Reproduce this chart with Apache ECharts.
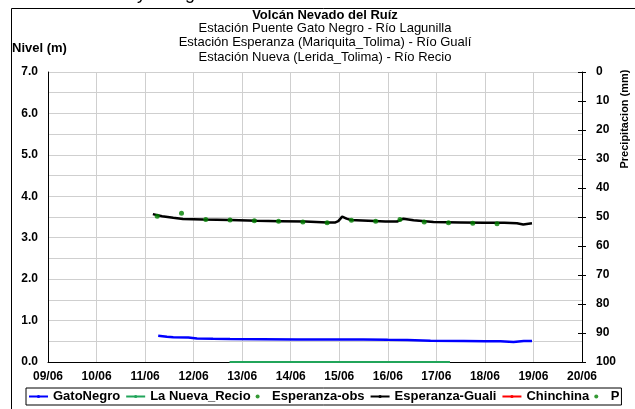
<!DOCTYPE html>
<html>
<head>
<meta charset="utf-8">
<script src="https://cdn.jsdelivr.net/npm/echarts@6/dist/echarts.min.js"></script>
<style>
html,body{margin:0;padding:0;background:#fff;}
#c{width:635px;height:409px;}
</style>
</head>
<body>
<div id="c"></div>
<script>
// ---- data (x = day of June, y = level in m) ----
var titleText = 'Volcán Nevado del Ruíz';
var subtitleLines = [
  'Estación Puente Gato Negro - Río Lagunilla',
  'Estación Esperanza (Mariquita_Tolima) - Río Gualí',
  'Estación Nueva (Lerida_Tolima) - Río Recio'
];
var seriesNames = ['GatoNegro', 'La Nueva_Recio', 'Esperanza-obs', 'Esperanza-Guali', 'Chinchina', 'P'];

var gatoNegroX = [11.27, 11.45, 11.58, 11.89, 12.07, 12.40, 12.75, 13.40, 14.13, 14.80, 15.49, 16.00, 16.40, 16.88, 17.56, 18.00, 18.32, 18.59, 18.80, 18.97];
var gatoNegroY = [0.635, 0.61, 0.60, 0.59, 0.565, 0.56, 0.555, 0.55, 0.545, 0.545, 0.545, 0.535, 0.53, 0.51, 0.505, 0.50, 0.50, 0.485, 0.505, 0.505];

var recioX = [12.74, 13.5, 14.5, 15.5, 16.5, 17.28];
var recioY = [0.0, 0.0, 0.0, 0.0, 0.0, 0.0];

var esperanzaObsX = [11.25, 11.75, 12.25, 12.75, 13.25, 13.75, 14.25, 14.75, 15.25, 15.75, 16.25, 16.75, 17.25, 17.75, 18.25];
var esperanzaObsY = [3.52, 3.59, 3.44, 3.43, 3.41, 3.40, 3.38, 3.36, 3.42, 3.40, 3.44, 3.38, 3.36, 3.35, 3.34];

var esperanzaGualiX = [11.16, 11.35, 11.58, 11.78, 12.20, 12.75, 13.30, 13.78, 14.30, 14.75, 14.92, 14.98, 15.06, 15.15, 15.23, 15.60, 15.95, 16.19, 16.32, 16.53, 16.94, 17.50, 18.00, 18.40, 18.66, 18.79, 18.97];
var esperanzaGualiY = [3.57, 3.52, 3.48, 3.45, 3.44, 3.43, 3.41, 3.40, 3.39, 3.37, 3.37, 3.40, 3.51, 3.46, 3.43, 3.41, 3.39, 3.39, 3.46, 3.42, 3.38, 3.37, 3.36, 3.36, 3.35, 3.32, 3.35];

var chinchinaX = [];
var chinchinaY = [];
var precipX = [];
var precipY = [];

var xMin = 9, xMax = 20;
var yMin = 0, yMax = 7;
var y2Min = 0, y2Max = 100;

function pairs(xs, ys) { return xs.map(function (x, i) { return [x, ys[i]]; }); }
function pad(n) { return (n < 10 ? '0' : '') + n; }

var FONT = '"Liberation Sans", Arial, sans-serif';
var chart = echarts.init(document.getElementById('c'), null, {renderer: 'canvas'});

var rightAxisBase = {
  type: 'value', position: 'right', min: y2Min, max: y2Max, interval: 10, inverse: true,
  splitLine: {show: false}
};

var option = {
  animation: false,
  backgroundColor: '#ffffff',
  textStyle: {fontFamily: FONT},
  grid: {left: 48, right: 53, top: 72, bottom: 47, containLabel: false},
  xAxis: {
    type: 'value', min: xMin, max: xMax, interval: 1,
    axisLine: {show: true, lineStyle: {color: '#000', width: 1}},
    axisTick: {show: false},
    axisLabel: {color: '#000', fontWeight: 'bold', fontSize: 12, fontFamily: FONT, margin: 9,
      formatter: function (v) { return pad(Math.round(v)) + '/06'; }},
    splitLine: {show: true, lineStyle: {color: '#cfcfcf', width: 1}}
  },
  yAxis: [
    {
      type: 'value', min: yMin, max: yMax, interval: 0.5,
      axisLine: {show: true, lineStyle: {color: '#000', width: 1}},
      axisTick: {show: false},
      axisLabel: {color: '#000', fontWeight: 'bold', fontSize: 12, fontFamily: FONT, margin: 10,
        formatter: function (v) { return Math.abs(v - Math.round(v)) < 1e-6 ? v.toFixed(1) : ''; }},
      splitLine: {show: true, lineStyle: {color: '#cfcfcf', width: 1}}
    },
    Object.assign({}, rightAxisBase, {
      axisLine: {show: true, lineStyle: {color: '#000', width: 1}},
      axisTick: {show: true, length: 4, lineStyle: {color: '#000'}},
      axisLabel: {color: '#000', fontWeight: 'bold', fontSize: 12, fontFamily: FONT, margin: 14}
    }),
    Object.assign({}, rightAxisBase, {
      axisLine: {show: false},
      axisTick: {show: true, inside: true, length: 4, lineStyle: {color: '#000'}},
      axisLabel: {show: false}
    })
  ],
  legend: {
    left: 26, top: 388,
    orient: 'horizontal',
    itemWidth: 19, itemHeight: 4, itemGap: 5,
    padding: [2, 2, 2, 2],
    borderColor: '#000', borderWidth: 1,
    textStyle: {color: '#000', fontWeight: 'bold', fontSize: 13, fontFamily: FONT},
    data: seriesNames
  },
  series: [
    {name: seriesNames[0], type: 'line', yAxisIndex: 0, symbol: 'none', data: pairs(gatoNegroX, gatoNegroY),
      lineStyle: {color: '#0000ff', width: 2.5}, itemStyle: {color: '#0000ff'}, z: 3},
    {name: seriesNames[1], type: 'line', yAxisIndex: 0, symbol: 'none', data: pairs(recioX, recioY),
      lineStyle: {color: '#21a55a', width: 2}, itemStyle: {color: '#21a55a'}, z: 3},
    {name: seriesNames[2], type: 'scatter', yAxisIndex: 0, symbol: 'circle', symbolSize: 5, data: pairs(esperanzaObsX, esperanzaObsY),
      itemStyle: {color: '#008000'}, z: 5},
    {name: seriesNames[3], type: 'line', yAxisIndex: 0, symbol: 'none', data: pairs(esperanzaGualiX, esperanzaGualiY),
      lineStyle: {color: '#000000', width: 2.5}, itemStyle: {color: '#000000'}, z: 4},
    {name: seriesNames[4], type: 'line', yAxisIndex: 0, symbol: 'circle', symbolSize: 3, data: pairs(chinchinaX, chinchinaY),
      lineStyle: {color: '#ff0000', width: 2}, itemStyle: {color: '#ff0000'}},
    {name: seriesNames[5], type: 'scatter', yAxisIndex: 1, symbol: 'circle', symbolSize: 3, data: pairs(precipX, precipY),
      itemStyle: {color: '#008000'}}
  ],
  graphic: [
    {type: 'rect', silent: true, shape: {x: 11.5, y: 8.5, width: 700, height: 500},
      style: {fill: 'none', stroke: '#000', lineWidth: 1}},
    {type: 'text', left: 137, top: -15, style: {text: 'y', font: '18px ' + FONT, fill: '#000'}},
    {type: 'text', left: 185, top: -15, style: {text: 'g', font: '18px ' + FONT, fill: '#000'}},
    {type: 'text', x: 325, y: 15, style: {text: titleText, font: 'bold 13px ' + FONT, fill: '#000', align: 'center', verticalAlign: 'middle'}},
    {type: 'text', x: 325, y: 28, style: {text: subtitleLines[0], font: '13px ' + FONT, fill: '#000', align: 'center', verticalAlign: 'middle'}},
    {type: 'text', x: 325, y: 42, style: {text: subtitleLines[1], font: '13px ' + FONT, fill: '#000', align: 'center', verticalAlign: 'middle'}},
    {type: 'text', x: 325, y: 57, style: {text: subtitleLines[2], font: '13px ' + FONT, fill: '#000', align: 'center', verticalAlign: 'middle'}},
    {type: 'text', x: 12, y: 48, style: {text: 'Nivel (m)', font: 'bold 13px ' + FONT, fill: '#000', align: 'left', verticalAlign: 'middle'}},
    {type: 'text', x: 625, y: 119, rotation: Math.PI / 2, style: {text: 'Precipitacion (mm)', font: 'bold 11px ' + FONT, fill: '#000', align: 'center', verticalAlign: 'middle'}}
  ]
};
chart.setOption(option);
</script>
</body>
</html>
